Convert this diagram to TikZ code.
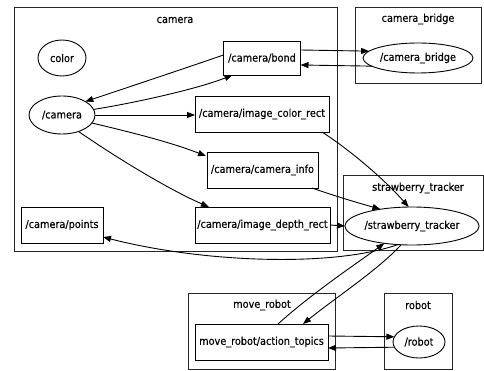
\documentclass[tikz,border=0pt]{standalone}
\usepackage{fontspec}
\setmainfont{DejaVu Sans Condensed}[FakeBold=0.4]
\usetikzlibrary{shapes.geometric,arrows.meta,calc}
\begin{document}
\begin{tikzpicture}[x=1pt,y=-1pt,
  every node/.style={font=\fontsize{10.8}{12}\selectfont, inner sep=0pt, outer sep=0pt},
  clusterbox/.style={draw=black!85, line width=0.9pt},
  clusterlabel/.style={},
  topicbox/.style={draw, rectangle, line width=0.9pt},
  nodeell/.style={draw, ellipse, line width=0.9pt},
  edge/.style={draw, line width=0.9pt, -{Triangle[length=8pt,width=6pt]}}]
\useasboundingbox (0,0) rectangle (484,371);
% clusters
\draw[clusterbox] (14,7) rectangle (337,251);
\draw[clusterbox] (355,7) rectangle (481,83);
\draw[clusterbox] (343,175) rectangle (483.5,250);
\draw[clusterbox] (188,293) rectangle (335,369);
\draw[clusterbox] (384,293) rectangle (452,369);
\node[clusterlabel] (lcamera) at (175,20) {camera};
\node[clusterlabel] (lbridge) at (418,19) {camera\_bridge};
\node[clusterlabel] (ltracker) at (418,188) {strawberry\_tracker};
\node[clusterlabel] (lmove) at (262,305) {move\_robot};
\node[clusterlabel] (lrobot) at (418,305) {robot};
% nodes
\node[nodeell, minimum width=48pt, minimum height=36pt] (color) at (62,58) {color};
\node[nodeell, minimum width=66pt, minimum height=38pt] (cam) at (62,115) {/camera};
\node[topicbox, minimum width=77pt, minimum height=34pt] (bond) at (262,58) {/camera/bond};
\node[topicbox, minimum width=134pt, minimum height=36pt] (icr) at (262,114) {/camera/image\_color\_rect};
\node[topicbox, minimum width=111pt, minimum height=36pt] (info) at (262.5,170) {/camera/camera\_info};
\node[topicbox, minimum width=135pt, minimum height=36pt] (idr) at (262.5,225) {/camera/image\_depth\_rect};
\node[topicbox, minimum width=82pt, minimum height=36pt] (points) at (62,225) {/camera/points};
\node[nodeell, minimum width=110pt, minimum height=30pt] (cbridge) at (418,58) {/camera\_bridge};
\node[nodeell, minimum width=122pt, minimum height=38pt] (st) at (412,226) {/strawberry\_tracker};
\node[topicbox, minimum width=133pt, minimum height=36pt] (mrat) at (261.5,342) {move\_robot/action\_topics};
\node[nodeell, minimum width=52pt, minimum height=32pt] (robot) at (419,342) {/robot};
% edges
\draw[edge] ($(bond.west)+(0,-3)$) .. controls (180,70) and (120,90) .. (cam.30);
\draw[edge] (cam.10) .. controls (140,102) and (200,88) .. ($(bond.south west)+(9,0)$);
\draw[edge] (cam.east) -- (cam.east -| icr.west);
\draw[edge] (cam.-15) .. controls (130,132) and (170,142) .. ($(info.north west)+(-1,4)$);
\draw[edge] (cam.-45) .. controls (120,160) and (170,190) .. ($(idr.north west)+(14,0)$);
\draw[edge] ($(bond.north east)+(0,9)$) -- (cbridge.172);
\draw[edge] (cbridge.190) -- ($(bond.south east)+(0,-10)$);
\draw[edge] ($(icr.south east)+(-7,0)$) .. controls (350,150) and (385,180) .. (st.100);
\draw[edge] ($(info.south east)+(-6,0)$) .. controls (335,196) and (355,202) .. (st.152);
\draw[edge] (idr.east) -- (st.west);
\draw[edge] (st.233) .. controls (330,268) and (200,262) .. ($(points.east)+(0,12)$);
\draw[edge] ($(mrat.north west)+(83,0)$) .. controls (310,295) and (350,268) .. (st.212);
\draw[edge] (st.240) .. controls (378,270) and (335,298) .. ($(mrat.north west)+(108,0)$);
\draw[edge] ($(mrat.east)+(0,-6)$) -- (robot.168);
\draw[edge] (robot.192) -- ($(mrat.east)+(0,6)$);
\end{tikzpicture}
\end{document}
